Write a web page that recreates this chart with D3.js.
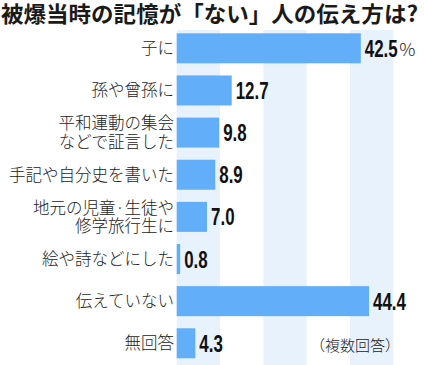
<!DOCTYPE html>
<meta charset="utf-8">
<html>
<head>
<script src="https://d3js.org/d3.v7.min.js"></script>
<style>
  body { margin: 0; background: #fff; }
</style>
</head>
<body>
<div id="chart"></div>
<script>
// data
var categories = [
  "子に",
  "孫や曾孫に",
  "平和運動の集会\nなどで証言した",
  "手記や自分史を書いた",
  "地元の児童·生徒や\n修学旅行生に",
  "絵や詩などにした",
  "伝えていない",
  "無回答"
];
var values = [42.5, 12.7, 9.8, 8.9, 7.0, 0.8, 44.4, 4.3];
var stripeStarts = [0, 20, 40];   // pale background bands, 10 pts wide
var title = "被爆当時の記憶が「ない」人の伝え方は?";
var note = "（複数回答）";

var width = 424, height = 365;
var barColor = "#62aef8", bandColor = "#e7f2fd";
var squeeze = 0.72;   // number font is narrowed to mimic a condensed face

var svg = d3.select("#chart").append("svg")
  .attr("width", width)
  .attr("height", height);

var x = d3.scaleLinear().domain([0, 50]).range([176.7, 393.3]);
var y = d3.scaleBand().domain(categories).range([33.3, 358.3]).paddingInner(0.288).paddingOuter(0);

// background bands
svg.append("g").selectAll("rect")
  .data(stripeStarts)
  .join("rect")
  .attr("x", d => x(d))
  .attr("width", d => x(d + 10) - x(d))
  .attr("y", 30)
  .attr("height", height - 30)
  .attr("fill", bandColor);

// title
svg.append("text")
  .attr("x", 1)
  .attr("y", 21.5)
  .attr("font-family", "Noto Sans CJK JP")
  .attr("font-weight", "bold")
  .attr("font-size", 22)
  .attr("textLength", 417)
  .attr("lengthAdjust", "spacingAndGlyphs")
  .attr("fill", "#1a1a1a")
  .text(title);

// bars
svg.append("g").selectAll("rect")
  .data(values)
  .join("rect")
  .attr("x", x(0))
  .attr("y", (d, i) => y(categories[i]))
  .attr("width", d => x(d) - x(0))
  .attr("height", y.bandwidth())
  .attr("fill", barColor);

// category labels
svg.append("g")
  .attr("font-family", "Noto Sans CJK JP")
  .attr("font-size", 16.5)
  .attr("font-weight", 300)
  .attr("fill", "#222")
  .attr("text-anchor", "end")
  .selectAll("text")
  .data(categories)
  .join("text")
  .attr("transform", d => `translate(174,${y(d) + y.bandwidth() / 2})`)
  .selectAll("tspan")
  .data(d => {
    var lines = d.split("\n");
    return lines.map((t, i) => ({t: t, dy: (i - (lines.length - 1) / 2) * 18.3}));
  })
  .join("tspan")
  .attr("x", 0)
  .attr("y", d => d.dy + 6)
  .text(d => d.t);

// value labels
var vl = svg.append("g")
  .attr("font-family", "Liberation Sans, Arial, sans-serif")
  .attr("font-weight", "bold")
  .attr("font-size", 23.5)
  .attr("fill", "#111")
  .selectAll("text")
  .data(values)
  .join("text")
  .attr("transform", (d, i) => `translate(${x(d) + 4},${y(categories[i]) + y.bandwidth() / 2 + 8.5}) scale(${squeeze},1)`)
  .text(d => d.toFixed(1));

// percent sign after the first value
var firstW = vl.node().getComputedTextLength() * squeeze;
svg.append("text")
  .attr("x", x(values[0]) + 4 + firstW + 1.5)
  .attr("y", y(categories[0]) + y.bandwidth() / 2 + 8)
  .attr("font-family", "Noto Sans CJK JP")
  .attr("font-weight", 300)
  .attr("font-size", 18)
  .attr("fill", "#222")
  .text("%");

// note
svg.append("text")
  .attr("x", 310)
  .attr("y", 351)
  .attr("font-family", "Noto Sans CJK JP")
  .attr("font-weight", 300)
  .attr("font-size", 15)
  .attr("fill", "#222")
  .text(note);
</script>
</body>
</html>
